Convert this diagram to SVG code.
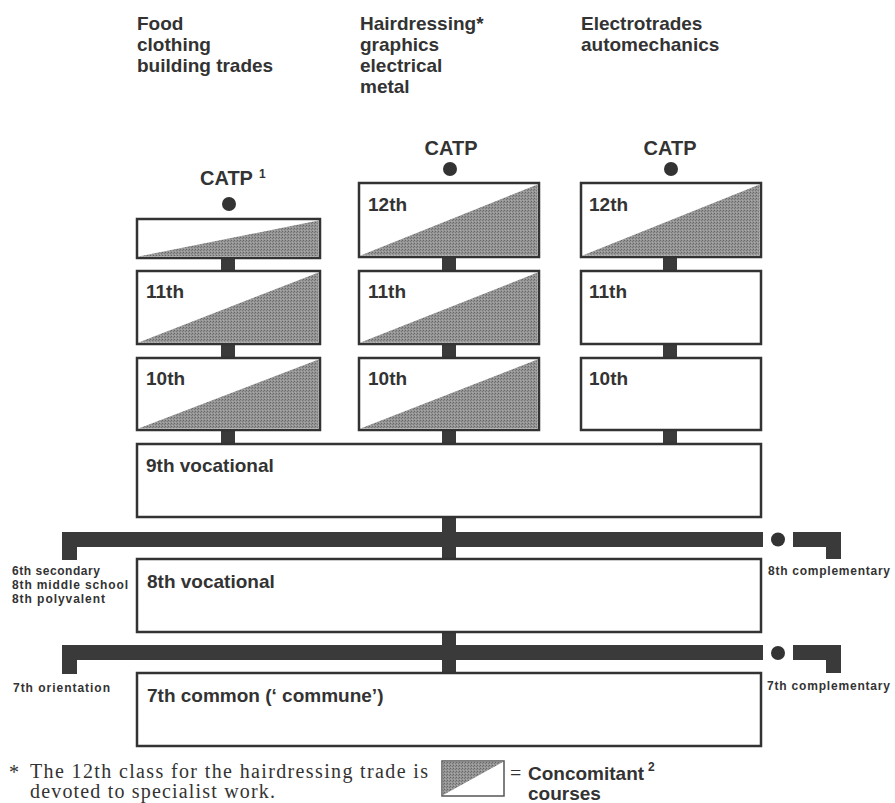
<svg xmlns="http://www.w3.org/2000/svg" width="895" height="803" viewBox="0 0 895 803">
<defs>
<pattern id="tex" width="3" height="3" patternUnits="userSpaceOnUse">
<rect width="3" height="3" fill="#959595"/>
<rect width="1" height="1" fill="#666"/>
<rect x="2" y="1" width="1" height="1" fill="#777"/>
<rect x="1" y="2" width="1" height="1" fill="#aaa"/>
</pattern>
<style>
.box{fill:#fff;stroke:#333;stroke-width:2.5}
.sh{fill:url(#tex)}
.lbl{font-family:"Liberation Sans",Arial,sans-serif;font-weight:bold;font-size:19px;fill:#333}
.cat{font-family:"Liberation Sans",Arial,sans-serif;font-weight:bold;font-size:20px;fill:#333}
.sm{font-family:"Liberation Sans",Arial,sans-serif;font-weight:bold;font-size:12px;fill:#333}
.ser{font-family:"Liberation Serif","Times New Roman",serif;font-size:20px;fill:#333}
.bar{fill:#3a3a3a}
.dot{fill:#333}
</style>
</defs>

<g id="headings">
<text class="lbl" x="137" y="30">Food</text>
<text class="lbl" x="137" y="51">clothing</text>
<text class="lbl" x="137" y="72">building trades</text>
<text class="lbl" x="360" y="30">Hairdressing*</text>
<text class="lbl" x="360" y="51">graphics</text>
<text class="lbl" x="360" y="72">electrical</text>
<text class="lbl" x="360" y="93">metal</text>
<text class="lbl" x="581" y="30">Electrotrades</text>
<text class="lbl" x="581" y="51">automechanics</text>
</g>

<g id="connectors">
<rect class="bar" x="221" y="257" width="14" height="15"/>
<rect class="bar" x="221" y="343" width="14" height="15"/>
<rect class="bar" x="221" y="429" width="14" height="15"/>
<rect class="bar" x="442" y="256" width="14" height="16"/>
<rect class="bar" x="442" y="343" width="14" height="15"/>
<rect class="bar" x="442" y="429" width="14" height="15"/>
<rect class="bar" x="663" y="256" width="14" height="15"/>
<rect class="bar" x="663" y="343" width="14" height="15"/>
<rect class="bar" x="663" y="429" width="14" height="15"/>
<rect class="bar" x="442" y="516" width="14" height="43"/>
<rect class="bar" x="442" y="631" width="14" height="42"/>
<path class="bar" d="M62 532H763V547H77V560H62Z"/>
<path class="bar" d="M793 532H841V559H826V547H793Z"/>
<circle class="dot" cx="778" cy="539.5" r="7"/>
<path class="bar" d="M62 645H763V660H77V674H62Z"/>
<path class="bar" d="M793 645H841V673H826V660H793Z"/>
<circle class="dot" cx="778" cy="653" r="7"/>
</g>

<g id="catp1">
<text class="cat" x="200" y="185">CATP</text>
<text class="sm" x="259" y="178" font-size="11px">1</text>
<circle class="dot" cx="229" cy="204" r="7"/>
</g>
<g id="catp2">
<text class="cat" x="451" y="155" text-anchor="middle">CATP</text>
<circle class="dot" cx="450" cy="169" r="7"/>
</g>
<g id="catp3">
<text class="cat" x="670" y="155" text-anchor="middle">CATP</text>
<circle class="dot" cx="671" cy="169" r="7"/>
</g>

<g id="c1-top">
<rect class="box" x="137" y="219" width="183" height="39"/>
<path class="sh" d="M138.5 256.5L318.5 220.5V256.5Z"/>
</g>
<g id="c1-11">
<rect class="box" x="137" y="271" width="183" height="73"/>
<path class="sh" d="M138.5 342.5L318.5 272.5V342.5Z"/>
<text class="lbl" x="146" y="298">11th</text>
</g>
<g id="c1-10">
<rect class="box" x="137" y="358" width="183" height="72"/>
<path class="sh" d="M138.5 428.5L318.5 359.5V428.5Z"/>
<text class="lbl" x="146" y="385">10th</text>
</g>

<g id="c2-12">
<rect class="box" x="359" y="183" width="180" height="74"/>
<path class="sh" d="M360.5 255.5L537.5 184.5V255.5Z"/>
<text class="lbl" x="368" y="211">12th</text>
</g>
<g id="c2-11">
<rect class="box" x="359" y="271" width="180" height="73"/>
<path class="sh" d="M360.5 342.5L537.5 272.5V342.5Z"/>
<text class="lbl" x="368" y="298">11th</text>
</g>
<g id="c2-10">
<rect class="box" x="359" y="358" width="180" height="72"/>
<path class="sh" d="M360.5 428.5L537.5 359.5V428.5Z"/>
<text class="lbl" x="368" y="385">10th</text>
</g>

<g id="c3-12">
<rect class="box" x="581" y="183" width="180" height="74"/>
<path class="sh" d="M582.5 255.5L759.5 184.5V255.5Z"/>
<text class="lbl" x="589" y="211">12th</text>
</g>
<g id="c3-11">
<rect class="box" x="581" y="271" width="180" height="73"/>
<text class="lbl" x="589" y="298">11th</text>
</g>
<g id="c3-10">
<rect class="box" x="581" y="358" width="180" height="72"/>
<text class="lbl" x="589" y="385">10th</text>
</g>

<g id="v9">
<rect class="box" x="137" y="444" width="624" height="73"/>
<text class="lbl" x="146" y="472">9th vocational</text>
</g>
<g id="v8">
<rect class="box" x="137" y="559" width="624" height="73"/>
<text class="lbl" x="147" y="588">8th vocational</text>
</g>
<g id="c7">
<rect class="box" x="137" y="673" width="624" height="73"/>
<text class="lbl" x="147" y="702">7th common (‘ commune’)</text>
</g>

<g id="side-labels">
<text class="sm" x="12" y="575" textLength="88" lengthAdjust="spacing">6th secondary</text>
<text class="sm" x="12" y="589" textLength="116" lengthAdjust="spacing">8th middle school</text>
<text class="sm" x="12" y="603" textLength="93" lengthAdjust="spacing">8th polyvalent</text>
<text class="sm" x="13" y="692" textLength="97" lengthAdjust="spacing">7th orientation</text>
<text class="sm" x="768" y="575" textLength="122" lengthAdjust="spacing">8th complementary</text>
<text class="sm" x="767" y="690" textLength="123" lengthAdjust="spacing">7th complementary</text>
</g>

<g id="footnote">
<text class="ser" x="9" y="779" font-size="15px">*</text>
<text class="ser" x="30" y="778" textLength="398" lengthAdjust="spacing">The 12th class for the hairdressing trade is</text>
<text class="ser" x="30" y="798" textLength="245" lengthAdjust="spacing">devoted to specialist work.</text>
</g>

<g id="legend">
<rect x="442" y="761" width="62" height="35" fill="#fff" stroke="#555" stroke-width="1.5"/>
<path class="sh" d="M442.8 761.8H503.2L442.8 795.2Z"/>
<text class="ser" x="510" y="780" font-size="18px" fill="#777">=</text>
<text class="lbl" x="528" y="780">Concomitant</text>
<text class="sm" x="648" y="771" font-size="11px">2</text>
<text class="lbl" x="528" y="800">courses</text>
</g>
</svg>
